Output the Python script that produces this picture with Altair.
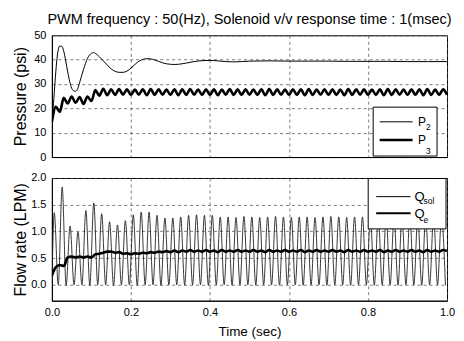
import altair as alt
import pandas as pd

FONT = "Liberation Sans"

# ---------------- data ----------------
# P2 : damped oscillation (psi)
p2_t = [0, 0.004, 0.008, 0.012, 0.016, 0.02, 0.025, 0.03, 0.035, 0.04, 0.045, 0.05,
        0.055, 0.06, 0.065, 0.07, 0.08, 0.09, 0.1, 0.105, 0.11, 0.12, 0.13, 0.14,
        0.15, 0.16, 0.17, 0.18, 0.19, 0.2, 0.21, 0.22, 0.23, 0.24, 0.25, 0.26, 0.27,
        0.28, 0.29, 0.3, 0.31, 0.32, 0.34, 0.36, 0.38, 0.4, 0.42, 0.44, 0.46, 0.48,
        0.5, 0.55, 0.6, 0.65, 0.7, 0.75, 0.8, 0.85, 0.9, 0.95, 1.0]
p2_v = [14.5, 22, 31, 39, 44, 45.6, 45.5, 43.5, 39.5, 35, 31, 28.3,
        27.2, 27.0, 28, 30.5, 36, 40.5, 42.6, 42.9, 42.6, 41.2, 39.5, 37.8,
        36.2, 35.2, 34.8, 34.8, 35.3, 36.5, 38, 39.3, 40.1, 40.4, 40.3, 39.9, 39.3,
        38.7, 38.3, 38.1, 38.0, 38.1, 38.6, 39.2, 39.6, 39.7, 39.5, 39.2, 39.1, 39.2,
        39.4, 39.5, 39.4, 39.4, 39.4, 39.3, 39.3, 39.3, 39.2, 39.2, 39.2]

# P3 : ripple, peaks at 0.01 + 0.02k, troughs at 0.02k (psi)
p3_peak = [20.6, 24.3, 24.8, 24.6, 24.8, 27.5, 28.0, 27.8, 27.9, 27.8,
           27.7, 27.8, 27.9, 27.8, 27.7, 27.8, 27.8, 27.9, 27.7, 27.8,
           27.8, 27.7, 27.9, 27.8, 27.8, 27.7, 27.8, 27.9, 27.8, 27.7,
           27.8, 27.8, 27.9, 27.7, 27.8, 27.8, 27.7, 27.9, 27.8, 27.8,
           27.7, 27.8, 27.9, 27.8, 27.7, 27.8, 27.8, 27.9, 27.7, 27.8]
p3_trough = [14.5, 18.5, 22.0, 22.3, 21.8, 23.0, 25.2, 25.4, 25.5, 25.6,
             25.5, 25.6, 25.4, 25.5, 25.6, 25.5, 25.4, 25.5, 25.6, 25.5,
             25.5, 25.4, 25.6, 25.5, 25.5, 25.6, 25.5, 25.4, 25.5, 25.6,
             25.5, 25.5, 25.4, 25.5, 25.6, 25.5, 25.5, 25.4, 25.5, 25.6,
             25.5, 25.5, 25.4, 25.5, 25.6, 25.5, 25.5, 25.4, 25.5, 25.5, 25.6]

# Q_sol : pulses, peaks at 0.006 + 0.02k, troughs at 0.016 + 0.02k (LPM)
qsol_peak = [1.35, 1.83, 1.10, 0.99, 1.39, 1.53, 1.33, 1.18, 1.12, 1.20,
             1.31, 1.36, 1.36, 1.30, 1.25, 1.25, 1.27, 1.30, 1.31, 1.30,
             1.30, 1.27, 1.27, 1.26, 1.28, 1.27, 1.26, 1.27, 1.28, 1.27,
             1.26, 1.27, 1.27, 1.26, 1.27, 1.28, 1.27, 1.26, 1.27, 1.27,
             1.26, 1.27, 1.27, 1.26, 1.27, 1.27, 1.26, 1.27, 1.27, 1.26]
qsol_trough = [0.00, -0.01, 0.00, 0.00, -0.01, 0.00, 0.00, -0.01, 0.00, 0.00,
               -0.01, 0.00, 0.00, -0.01, 0.00, 0.00, -0.01, 0.00, 0.00, -0.01,
               0.00, 0.00, -0.01, 0.00, 0.00, -0.01, 0.00, 0.00, -0.01, 0.00,
               0.00, -0.01, 0.00, 0.00, -0.01, 0.00, 0.00, -0.01, 0.00, 0.00,
               -0.01, 0.00, 0.00, -0.01, 0.00, 0.00, -0.01, 0.00, 0.00, -0.01]

# Q_e : sampled every 0.01 s (LPM)
qe_v = [0.17, 0.33, 0.37, 0.35, 0.51, 0.53, 0.51, 0.53, 0.51, 0.53,
        0.51, 0.57, 0.58, 0.60, 0.62, 0.62, 0.60, 0.61, 0.58, 0.59,
        0.57, 0.59, 0.58, 0.60, 0.59, 0.61, 0.60, 0.62, 0.61, 0.63,
        0.61, 0.64, 0.61, 0.64, 0.62, 0.65, 0.62, 0.64, 0.62, 0.65,
        0.62, 0.64, 0.61, 0.65, 0.62, 0.64, 0.62, 0.65, 0.62, 0.64,
        0.62, 0.65, 0.62, 0.64, 0.61, 0.65, 0.62, 0.64, 0.62, 0.65,
        0.62, 0.64, 0.62, 0.65, 0.61, 0.64, 0.62, 0.65, 0.62, 0.64,
        0.62, 0.65, 0.62, 0.64, 0.61, 0.65, 0.62, 0.64, 0.62, 0.65,
        0.62, 0.64, 0.62, 0.65, 0.61, 0.64, 0.62, 0.65, 0.62, 0.64,
        0.62, 0.65, 0.62, 0.64, 0.61, 0.65, 0.62, 0.64, 0.62, 0.65, 0.63]

x_ticks = [0.0, 0.2, 0.4, 0.6, 0.8, 1.0]
p_ticks = [0, 10, 20, 30, 40, 50]
q_ticks = [0.0, 0.5, 1.0, 1.5, 2.0]

TITLE = "PWM frequency : 50(Hz), Solenoid v/v response time : 1(msec)"

# ---------------- tables ----------------
def alternating(peaks, troughs, t_peak0, t_trough0, period=0.02, start=None):
    rows = []
    if start is not None:
        rows.append(start)
    for k, v in enumerate(peaks):
        rows.append((round(t_peak0 + period * k, 4), v))
    for k, v in enumerate(troughs):
        rows.append((round(t_trough0 + period * k, 4), v))
    rows.sort(key=lambda r: r[0])
    return pd.DataFrame(rows, columns=["t", "v"])

p2_df = pd.DataFrame({"t": p2_t, "v": p2_v})
p3_df = alternating(p3_peak, p3_trough, 0.01, 0.0)
qsol_df = alternating(qsol_peak, qsol_trough, 0.006, 0.016, start=(0.0, 0.0))
qe_df = pd.DataFrame({"t": [round(0.01 * i, 2) for i in range(len(qe_v))], "v": qe_v})

W, H1, H2 = 396, 122, 123
R = W - 399  # shift of the in-plot legends so they keep their distance to the right edge
one = pd.DataFrame({"a": [0]})


def xenc(show):
    if show:
        ax = alt.Axis(values=x_ticks, format=".1f", title="Time (sec)", ticks=False,
                      labelFlush=False, labelPadding=6, titlePadding=7, titleFontSize=13.5)
    else:
        ax = alt.Axis(values=x_ticks, labels=False, ticks=False, title=None)
    return alt.X("t:Q", scale=alt.Scale(domain=[0, 1], nice=False, zero=False), axis=ax)


def box(x1, x2, y1, y2):
    return alt.Chart(one).mark_rect(fill="white", stroke="black", strokeWidth=1).encode(
        x=alt.value(x1 + R), x2=alt.value(x2 + R), y=alt.value(y1), y2=alt.value(y2))


def sample(x1, x2, y, w):
    return alt.Chart(one).mark_rule(color="black", strokeWidth=w).encode(
        x=alt.value(x1 + R), x2=alt.value(x2 + R), y=alt.value(y))


def txt(s, x, y, size):
    return alt.Chart(one).mark_text(text=s, align="left", baseline="alphabetic",
                                    font=FONT, fontSize=size, color="black").encode(
        x=alt.value(x + R), y=alt.value(y))


# ---------------- top panel ----------------
p_y = alt.Y("v:Q", scale=alt.Scale(domain=[0, 50], nice=False),
            axis=alt.Axis(values=p_ticks, format="d", title="Pressure (psi)",
                          ticks=False, labelPadding=6, titlePadding=5))

p2_line = alt.Chart(p2_df).mark_line(color="black", strokeWidth=1, interpolate="monotone",
                                     clip=True).encode(x=xenc(False), y=p_y)
p3_line = alt.Chart(p3_df).mark_line(color="black", strokeWidth=2.6, interpolate="monotone",
                                     clip=True).encode(x=xenc(False), y=p_y)

top = alt.layer(
    p2_line, p3_line,
    box(325, 389, 72, 121),
    sample(331.5, 364.5, 86.7, 1),
    sample(331.5, 364.5, 105, 2.6),
    txt("P", 370, 91, 12), txt("2", 378, 95, 8.5),
    txt("P", 370, 109, 12), txt("3", 378, 119, 8.5),
).properties(
    width=W, height=H1,
    title=alt.TitleParams(TITLE, font=FONT, fontSize=14.5, fontWeight="normal",
                          color="black", anchor="middle", frame="group", offset=2),
)

# ---------------- bottom panel ----------------
q_y = alt.Y("v:Q", scale=alt.Scale(domain=[-0.3, 2.0], nice=False, zero=False),
            axis=alt.Axis(values=q_ticks, format=".1f", title="Flow rate (LPM)",
                          ticks=False, labelPadding=6, titlePadding=2))

qsol_line = alt.Chart(qsol_df).mark_line(color="#222222", strokeWidth=0.9,
                                         interpolate="monotone", clip=True).encode(
    x=xenc(True), y=q_y)
qe_line = alt.Chart(qe_df).mark_line(color="black", strokeWidth=2.6,
                                     interpolate="monotone", clip=True).encode(
    x=xenc(True), y=q_y)

bottom = alt.layer(
    qsol_line, qe_line,
    box(320, 398, 0.5, 51),
    sample(328, 362.5, 18.7, 1),
    sample(328, 362.5, 35.3, 2),
    txt("Q", 366.5, 23, 13), txt("sol", 375.5, 26, 8.5),
    txt("Q", 366.5, 40, 13), txt("e", 375.5, 45, 8.5),
).properties(width=W, height=H2)

chart = alt.vconcat(top, bottom, spacing=8).properties(
    padding={"left": 4, "top": 3, "right": 0, "bottom": 0}
).configure_view(
    stroke="black", strokeWidth=1
).configure_axis(
    labelFont=FONT, labelFontSize=11, labelColor="black",
    titleFont=FONT, titleFontSize=16, titleFontWeight="normal", titleColor="black",
    domainColor="black", domainWidth=1,
    grid=True, gridColor="#444444", gridDash=[3, 3], gridWidth=0.7, gridOpacity=1,
)

chart.save("out.html", embed_options={"renderer": "svg", "actions": False})
